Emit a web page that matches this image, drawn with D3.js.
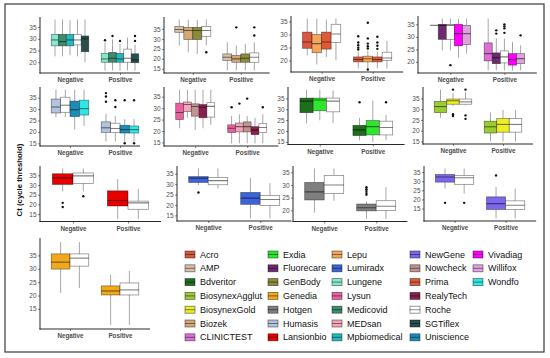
<!DOCTYPE html>
<html><head><meta charset="utf-8">
<script src="https://cdn.jsdelivr.net/npm/d3@7"></script>
<style>body{margin:0;background:#fff}svg{display:block}</style>
</head><body><svg id="c" width="550" height="358"></svg>
<script>
// ---------------- DATA ----------------
const groupLabels = ["Negative", "Positive"];
const yTickValues = [15, 20, 25, 30, 35];
const yTitle = "Ct (cycle threshold)";

const legendNames = ["Acro","AMP","Bdveritor","BiosynexAgglut","BiosynexGold","Biozek","CLINICTEST",
  "Exdia","Fluorecare","GenBody","Genedia","Hotgen","Humasis","Lansionbio",
  "Lepu","Lumiradx","Lungene","Lysun","Medicovid","MEDsan","Mpbiomedical",
  "NewGene","Nowcheck","Prima","RealyTech","Roche","SGTiflex","Uniscience",
  "Vivadiag","Willifox","Wondfo"];
const legendColors = ["#D9573F","#D8BFA8","#1E6E1E","#9ACD32","#EEEE22","#D2A877","#DA70D6",
  "#2EE62E","#6E2A6E","#8B8B3C","#F2A81C","#7F7F7F","#B3C3DF","#E60000",
  "#F5A65B","#3C63D9","#86E8CB","#E8619E","#3E8C6C","#F2A6B8","#26B8BF",
  "#7B68EE","#C49292","#E0583A","#8B1E4E","#FFFFFF","#284E4E","#1B8CB8",
  "#FF00FF","#DFA2DF","#2EE8E8"];

// box stats: [lowWhisker, q1, median, q3, highWhisker, [outliers]]
const p1Tests = ["Lungene","Medicovid","Mpbiomedical","Roche","SGTiflex"];
const p1Neg = [[22.5,27.0,29.5,31.9,38.2,[]],[22.5,27.0,28.8,31.9,38.2,[]],[23.0,27.0,29.5,31.9,37.9,[]],[22.5,27.4,29.5,31.9,38.2,[]],[20.0,24.5,30.0,31.2,38.2,[]]];
const p1Pos = [[16.5,20.0,21.4,23.8,28.4,[29.4]],[16.5,20.0,21.7,24.2,29.8,[31.2]],[16.5,20.0,21.4,23.8,27.7,[29.1]],[16.5,20.0,21.7,25.6,30.5,[]],[16.5,19.8,21.0,23.6,27.5,[31.2,29.1]]];

const p2Tests = ["AMP","Biozek","GenBody","Roche"];
const p2Neg = [[26.7,33.3,34.7,36.2,39.7,[]],[23.3,29.7,34.2,35.8,39.6,[]],[22.5,29.7,34.2,35.8,39.6,[]],[26.7,31.3,34.2,36.2,39.7,[23.3]]];
const p2Pos = [[14.2,19.2,20.8,22.5,28.3,[]],[14.2,18.3,20.0,21.7,26.7,[35.8]],[14.2,18.3,20.3,22.5,27.5,[]],[14.2,18.3,20.8,23.0,28.3,[35.8,31.7]]];

const p3Tests = ["Acro","Lepu","Prima","Roche"];
const p3Neg = [[22.0,24.7,27.1,30.9,36.1,[]],[18.5,23.0,26.5,30.0,36.1,[]],[21.4,24.4,27.1,30.9,35.7,[]],[20.1,26.9,30.2,33.9,36.1,[]]];
const p3Pos = [[17.0,19.5,20.4,21.4,23.4,[29.3,26.9,25.9,24.9,24.2]],[17.0,19.5,20.7,21.7,23.8,[34.5,28.5,26.5,25.5,24.6,16.6]],[17.0,19.5,20.4,21.4,23.4,[29.1,26.9,25.7,24.5]],[17.0,20.1,21.0,23.2,27.5,[]]];

const p4Tests = ["CLINICTEST","Fluorecare","Roche","Vivadiag","Willifox"];
const p4Neg = [[34.6,34.6,34.6,34.6,34.6,[]],[24.6,29.0,34.6,35.0,37.3,[]],[24.6,29.0,34.6,35.0,37.3,[18.7]],[21.7,26.4,31.3,35.0,37.3,[]],[23.3,26.9,31.3,34.6,37.3,[]]];
const p4Pos = [[16.6,20.4,23.3,27.6,37.3,[]],[16.6,19.3,21.7,23.6,29.5,[32.6,31.3]],[16.6,19.6,22.0,24.4,29.3,[35.0,34.2,33.4,31.6]],[16.6,18.7,20.9,23.3,28.0,[]],[16.6,19.3,21.3,23.3,26.6,[30.6]]];

const p5Tests = ["Humasis","Roche","Uniscience","Wondfo"];
const p5Neg = [[26.4,28.3,30.9,34.4,38.5,[]],[26.4,28.6,31.7,35.2,38.5,[]],[21.0,26.7,29.7,33.5,38.5,[]],[22.6,27.4,30.2,33.9,38.5,[]]];
const p5Pos = [[15.8,19.8,21.8,24.4,27.9,[37.0,35.5,33.2]],[15.8,19.8,21.5,23.8,27.0,[33.9,30.9]],[15.8,19.5,21.0,22.9,25.6,[33.9,15.0]],[15.8,19.5,21.0,22.6,25.6,[33.9,15.0]]];

const p6Tests = ["Lysun","MEDsan","Nowcheck","RealyTech","Roche"];
const p6Neg = [[21.2,25.0,28.1,32.2,38.1,[]],[25.8,28.5,31.6,32.7,38.1,[]],[20.4,26.5,30.7,31.9,38.1,[]],[21.2,25.8,30.4,31.6,38.1,[]],[22.7,26.1,30.8,32.4,38.1,[]]];
const p6Pos = [[14.6,19.3,21.2,22.7,26.5,[30.4]],[14.6,19.6,21.9,23.5,27.3,[32.0]],[14.6,19.6,21.9,24.0,26.5,[34.2]],[14.6,18.4,20.4,21.9,25.8,[]],[14.6,19.3,21.5,23.2,27.3,[30.4]]];

const p7Tests = ["Bdveritor","Exdia","Roche"];
const p7Neg = [[23.5,28.4,33.7,35.1,39.0,[]],[24.9,29.3,34.2,35.1,39.0,[]],[23.7,28.8,33.7,35.1,38.6,[]]];
const p7Pos = [[15.7,17.9,20.5,22.6,26.0,[33.2]],[15.0,18.2,22.0,24.8,34.0,[]],[15.7,18.2,21.6,24.5,27.4,[33.2]]];

const p8Tests = ["BiosynexAgglut","BiosynexGold","Roche"];
const p8Neg = [[26.0,28.4,31.2,33.6,39.1,[]],[31.5,32.3,33.9,34.7,37.5,[39.1,27.6,26.8]],[31.9,32.3,33.4,34.7,37.8,[39.1,27.1,25.5]]];
const p8Pos = [[15.0,18.9,21.8,24.4,28.4,[]],[15.0,19.3,22.9,25.6,29.6,[]],[15.0,19.3,22.9,25.6,29.6,[]]];

const p9Tests = ["Lansionbio","Roche"];
const p9Neg = [[26.7,30.3,33.7,35.8,38.5,[20.8,18.7]],[26.7,30.8,34.7,36.2,38.5,[24.2]]];
const p9Pos = [[12.5,19.2,22.0,27.0,33.0,[]],[12.5,17.5,20.8,21.7,28.0,[]]];

const p10Tests = ["Lumiradx","Roche"];
const p10Neg = [[29.4,30.8,32.9,33.6,37.5,[26.0]],[27.9,29.7,31.7,33.2,37.5,[]]];
const p10Pos = [[13.5,20.3,23.3,26.0,33.0,[]],[13.5,19.8,22.6,24.5,30.5,[]]];

const p11Tests = ["Hotgen","Roche"];
const p11Neg = [[19.1,24.1,27.3,31.0,36.5,[]],[23.8,26.6,30.0,33.8,36.5,[]]];
const p11Pos = [[16.6,19.8,21.0,22.5,23.5,[29.1,28.3,27.6,26.8,26.2]],[16.6,20.0,21.6,23.8,29.1,[]]];

const p12Tests = ["NewGene","Roche"];
const p12Neg = [[25.9,29.5,32.3,33.7,37.0,[18.1]],[23.2,28.3,31.9,33.2,37.0,[18.1]]];
const p12Pos = [[9.5,14.5,17.7,21.4,26.8,[33.2]],[9.5,14.5,16.8,19.2,25.9,[]]];

const p13Tests = ["Genedia","Roche"];
const p13Neg = [[21.0,29.9,32.5,35.6,40.0,[]],[22.8,31.0,34.0,35.6,40.0,[]]];
const p13Pos = [[9.0,20.2,21.7,23.6,27.8,[]],[9.0,20.2,22.1,24.7,29.2,[]]];

// ---------------- LAYOUT ----------------
const panels = [
  {tests:p1Tests, neg:p1Neg, pos:p1Pos},{tests:p2Tests, neg:p2Neg, pos:p2Pos},
  {tests:p3Tests, neg:p3Neg, pos:p3Pos},{tests:p4Tests, neg:p4Neg, pos:p4Pos},
  {tests:p5Tests, neg:p5Neg, pos:p5Pos},{tests:p6Tests, neg:p6Neg, pos:p6Pos},
  {tests:p7Tests, neg:p7Neg, pos:p7Pos},{tests:p8Tests, neg:p8Neg, pos:p8Pos},
  {tests:p9Tests, neg:p9Neg, pos:p9Pos},{tests:p10Tests, neg:p10Neg, pos:p10Pos},
  {tests:p11Tests, neg:p11Neg, pos:p11Pos},{tests:p12Tests, neg:p12Neg, pos:p12Pos},
  {tests:p13Tests, neg:p13Neg, pos:p13Pos}
];
const layouts = [
  {x0:40, u:50, right:140, top:17, bottom:73},
  {x0:164,u:48, right:272, top:17, bottom:73},
  {x0:291,u:51, right:410, top:16, bottom:72},
  {x0:418,u:54, right:540, top:16, bottom:73},
  {x0:40, u:50, right:140, top:87, bottom:146},
  {x0:164,u:52, right:282, top:87, bottom:146},
  {x0:288,u:53, right:408, top:87, bottom:144.5},
  {x0:423,u:50, right:540, top:87, bottom:144},
  {x0:40, u:55, right:162, top:166, bottom:221.5},
  {x0:177,u:52, right:292, top:166, bottom:221},
  {x0:293,u:52, right:410, top:166, bottom:221.5},
  {x0:424,u:51, right:540, top:166, bottom:221},
  {x0:40, u:50, right:150, top:238, bottom:329}
];
const FONT = "'Liberation Sans', Arial, sans-serif";
const colorOf = d3.scaleOrdinal().domain(legendNames).range(legendColors);

const svg = d3.select("#c");
svg.append("rect").attr("x",5).attr("y",4).attr("width",539).attr("height",348)
  .attr("fill","none").attr("stroke","#3a3a3a").attr("stroke-width",1.2);

const STROKE = "rgba(0,0,0,0.5)";

panels.forEach((p, k) => {
  const L = layouts[k];
  const vals = [];
  [p.neg, p.pos].forEach(arr => arr.forEach(s => { vals.push(s[0], s[4], ...s[5]); }));
  const mn = d3.min(vals), mx = d3.max(vals), r = mx - mn;
  const y = d3.scaleLinear().domain([mn - 0.05*r, mx + 0.05*r]).range([L.bottom, L.top]);
  const x = d3.scaleLinear().domain([0.4, 2.6]).range([L.x0, L.x0 + 2.2*L.u]);
  const xEnd = Math.min(L.x0 + 2.2*L.u, L.right);
  const g = svg.append("g");
  g.append("clipPath").attr("id","cp"+k).append("rect")
    .attr("x", L.x0).attr("y", L.top - 4).attr("width", xEnd - L.x0).attr("height", L.bottom - L.top + 8);
  const m = g.append("g").attr("clip-path", `url(#cp${k})`);
  const n = p.tests.length, bw = 0.75 / n;
  [p.neg, p.pos].forEach((arr, gi) => {
    arr.forEach((s, i) => {
      const c = gi + 1 - 0.375 + bw*(i + 0.5);
      const col = colorOf(p.tests[i]);
      const cx = x(c);
      m.append("line").attr("x1",cx).attr("x2",cx).attr("y1",y(s[0])).attr("y2",y(s[1]))
        .attr("stroke",STROKE).attr("stroke-width",0.7);
      m.append("line").attr("x1",cx).attr("x2",cx).attr("y1",y(s[3])).attr("y2",y(s[4]))
        .attr("stroke",STROKE).attr("stroke-width",0.7);
      m.append("rect").attr("x", x(c - bw/2)).attr("width", x(c + bw/2) - x(c - bw/2))
        .attr("y", y(s[3])).attr("height", Math.max(0, y(s[1]) - y(s[3])))
        .attr("fill", col).attr("stroke", STROKE).attr("stroke-width", 0.7);
      m.append("line").attr("x1", x(c - bw/2)).attr("x2", x(c + bw/2)).attr("y1", y(s[2])).attr("y2", y(s[2]))
        .attr("stroke", STROKE).attr("stroke-width", 1.1);
      s[5].forEach(o => {
        m.append("circle").attr("cx", cx).attr("cy", y(o)).attr("r", 1.2).attr("fill", "#111");
      });
    });
  });
  const ticks = yTickValues.filter(t => t >= y.domain()[0] && t <= y.domain()[1]);
  const ya = g.append("g").attr("transform", `translate(${L.x0},0)`)
    .call(d3.axisLeft(y).tickValues(ticks).tickSize(2).tickPadding(1.5).tickSizeOuter(0));
  ya.select(".domain").remove();
  ya.selectAll("text").attr("font-size", 6.5).attr("font-family", FONT).attr("fill", "#4d4d4d");
  ya.selectAll("line").attr("stroke", "#333").attr("stroke-width", 0.6);
  const xa = g.append("g").attr("transform", `translate(0,${L.bottom})`)
    .call(d3.axisBottom(x).tickValues([1,2]).tickFormat((d,i) => groupLabels[i]).tickSize(2).tickPadding(3).tickSizeOuter(0));
  xa.select(".domain").remove();
  xa.selectAll("text").attr("font-size", 6.3).attr("font-family", FONT).attr("font-weight","bold").attr("fill", "#4d4d4d");
  xa.selectAll("line").attr("stroke", "#333").attr("stroke-width", 0.6);
  g.append("line").attr("x1", L.x0).attr("x2", L.x0).attr("y1", L.top).attr("y2", L.bottom + 0.5)
    .attr("stroke", "#111").attr("stroke-width", 0.9);
  g.append("line").attr("x1", L.x0 - 0.5).attr("x2", xEnd).attr("y1", L.bottom).attr("y2", L.bottom)
    .attr("stroke", "#111").attr("stroke-width", 0.9);
});

// y title
svg.append("text").attr("transform", "translate(22,180) rotate(-90)")
  .attr("text-anchor", "middle").attr("font-family", FONT).attr("font-weight", "bold")
  .attr("font-size", 7.8).attr("fill", "#111").text(yTitle);

// legend
const legColX = [185, 268, 332, 410, 473];
const legRowY0 = 254.5, legRowDY = 13.8;
const lg = svg.append("g");
legendNames.forEach((name, i) => {
  const col = Math.floor(i / 7), row = i % 7;
  const kx = legColX[col], ky = legRowY0 + row*legRowDY;
  const e = lg.append("g");
  e.append("rect").attr("x", kx).attr("y", ky - 3.5).attr("width", 10).attr("height", 7)
    .attr("fill", legendColors[i]).attr("stroke", STROKE).attr("stroke-width", 0.8);
  e.append("line").attr("x1", kx).attr("x2", kx + 10).attr("y1", ky).attr("y2", ky)
    .attr("stroke", STROKE).attr("stroke-width", 0.9);
  e.append("text").attr("x", kx + 15).attr("y", ky).attr("dy", "0.35em")
    .attr("font-family", FONT).attr("font-size", 9).attr("fill", "#111").text(name);
});
</script></body></html>
